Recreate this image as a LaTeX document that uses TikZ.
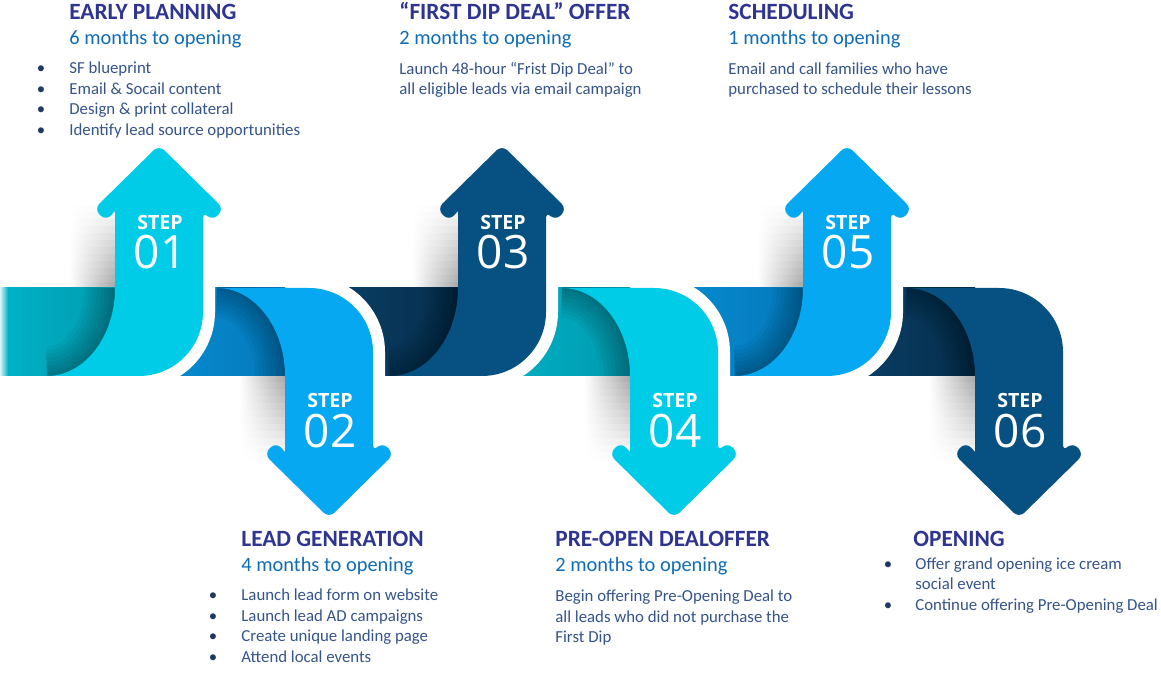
\documentclass[tikz,border=0pt]{standalone}
\usepackage{fontspec}
\setmainfont{Carlito}
\newfontfamily\osans{Open Sans}
\definecolor{cyanA}{HTML}{00CCE8}
\definecolor{brightA}{HTML}{06A9F1}
\definecolor{navyA}{HTML}{075182}
\definecolor{tealS}{HTML}{00B3C8}
\definecolor{tealD}{HTML}{009AAE}
\definecolor{medS}{HTML}{078FD5}
\definecolor{medD}{HTML}{0578BA}
\definecolor{navS}{HTML}{0A446D}
\definecolor{navD}{HTML}{062C4A}
\definecolor{ttlc}{HTML}{2E3591}
\definecolor{subc}{HTML}{0F6CB6}
\definecolor{bodyc}{HTML}{34548A}
\definecolor{bulc}{HTML}{1F3864}
\newcommand{\UpArrowShape}[2]{%
  \fill[#2] ({#1-68},376) .. controls ({#1-30.4},376) and (#1,336.6) .. (#1,288)
   -- (#1,211) [rounded corners=3.8pt] -- ({#1-9},221) -- ({#1-21},209) -- ({#1+44},145)
   -- ({#1+109},209) -- ({#1+97},221) -- ({#1+88},211) [sharp corners]
   -- ({#1+88},312) .. controls ({#1+88},347.3) and ({#1+59.3},376) .. ({#1+24},376) -- cycle;}
\newcommand{\DownArrowShape}[2]{%
  \fill[#2] ({#1-68},288) .. controls ({#1-30.4},288) and (#1,327.4) .. (#1,376)
   -- (#1,452) [rounded corners=3.8pt] -- ({#1-9},442) -- ({#1-21},454) -- ({#1+44},518)
   -- ({#1+109},454) -- ({#1+97},442) -- ({#1+88},452) [sharp corners]
   -- ({#1+88},352) .. controls ({#1+88},316.7) and ({#1+59.3},288) .. ({#1+24},288) -- cycle;}
\newcommand{\UpEdge}[1]{\draw[white, line width=12pt] ({#1+88},268) -- ({#1+88},312) .. controls ({#1+88},347.3) and ({#1+59.3},376) .. ({#1+24},376) -- ({#1+4},376);}
\newcommand{\DownEdge}[1]{\draw[white, line width=12pt] ({#1+4},288) -- ({#1+24},288) .. controls ({#1+59.3},288) and ({#1+88},316.7) .. ({#1+88},352) -- ({#1+88},396);}
\newcommand{\UpShade}[1]{\foreach \w in {30,26,22,18,14,10,6,3}{\draw[black, opacity=0.04, line width=\w pt] ({#1-68},376) .. controls ({#1-30.4},376) and (#1,336.6) .. (#1,288);}}
\newcommand{\DownShade}[1]{\foreach \w in {30,26,22,18,14,10,6,3}{\draw[black, opacity=0.04, line width=\w pt] ({#1-68},288) .. controls ({#1-30.4},288) and (#1,327.4) .. (#1,376);}}
\newcommand{\UpDrop}[1]{\foreach \i in {0,...,11}{\pgfmathsetmacro{\kk}{2.8*(\i+1)}\fill[left color=white, right color=black!\kk] ({#1-46},{206+7*\i}) rectangle (#1,{213.5+7*\i});}}
\newcommand{\DownDrop}[1]{\foreach \i in {0,...,11}{\pgfmathsetmacro{\kk}{33.6-2.8*\i}\fill[left color=white, right color=black!\kk] ({#1-46},{375.5+7*\i}) rectangle (#1,{383+7*\i});}}
\tikzset{
  ttl/.style={anchor=base west, inner sep=0pt, text=ttlc, font=\fontsize{11.65}{14}\selectfont\bfseries},
  sub/.style={anchor=base west, inner sep=0pt, text=subc, font=\fontsize{10.2}{12}\selectfont},
  txt/.style={anchor=base west, inner sep=0pt, text=bodyc, font=\fontsize{8.4}{10}\selectfont},
  bul/.style={anchor=base, inner sep=0pt, text=bulc, font=\fontsize{8.4}{10}\selectfont},
  steplbl/.style={anchor=base, inner sep=0pt, text=white, font=\osans\bfseries\fontsize{9.8}{11}\selectfont},
  stepnum/.style={anchor=base, inner sep=0pt, text=white, font=\osans\fontsize{23}{26}\selectfont}
}
\begin{document}
\begin{tikzpicture}[x=0.5pt,y=-0.5pt]
\useasboundingbox (0,0) rectangle (1161,673);
\fill[white] (0,0) rectangle (1161,673);
% drop shadows outside the band
\UpDrop{115}\UpDrop{458}\UpDrop{803}
\DownDrop{285}\DownDrop{630}\DownDrop{975}
% band segments
\fill[left color=tealS, middle color=tealS, right color=tealD] (0,288) rectangle (115,376);
\fill[left color=medS, middle color=medS, right color=medD] (139,288) rectangle (285,376);
\fill[left color=navS, middle color=navS, right color=navD] (309,288) rectangle (458,376);
\fill[left color=tealS, middle color=tealS, right color=tealD] (482,288) rectangle (630,376);
\fill[left color=medS, middle color=medS, right color=medD] (653,288) rectangle (803,376);
\fill[left color=navS, middle color=navS, right color=navD] (827,288) rectangle (975,376);
\fill[left color=white!85!tealS, right color=tealS] (0,288) rectangle (8,376);
% curve shadows
\begin{scope}
\clip (0,288) rectangle (1161,376);
\UpShade{115}\DownShade{285}\UpShade{458}\DownShade{630}\UpShade{803}\DownShade{975}
\end{scope}
% white outlines
\UpEdge{115}\DownEdge{285}\UpEdge{458}\DownEdge{630}\UpEdge{803}
% arrows
\UpArrowShape{115}{cyanA}
\DownArrowShape{285}{brightA}
\UpArrowShape{458}{navyA}
\DownArrowShape{630}{cyanA}
\UpArrowShape{803}{brightA}
\DownArrowShape{975}{navyA}
% step labels
\node[steplbl] (s1) at (160,230) {STEP};
\node[stepnum] (n1) at (160,269) {01};
\node[steplbl] (s2) at (330,408) {STEP};
\node[stepnum] (n2) at (330,447) {02};
\node[steplbl] (s3) at (503,230) {STEP};
\node[stepnum] (n3) at (503,269) {03};
\node[steplbl] (s4) at (675,408) {STEP};
\node[stepnum] (n4) at (675,447) {04};
\node[steplbl] (s5) at (848,230) {STEP};
\node[stepnum] (n5) at (848,269) {05};
\node[steplbl] (s6) at (1020,408) {STEP};
\node[stepnum] (n6) at (1020,447) {06};
% step 1 text
\node[ttl] (t1) at (69,19.5) {EARLY PLANNING};
\node[sub] (u1) at (69,44.5) {6 months to opening};
\node[bul] (b1a) at (41,74) {•};
\node[bul] (b1b) at (41,94.5) {•};
\node[bul] (b1c) at (41,115) {•};
\node[bul] (b1d) at (41,135.5) {•};
\node[txt] (x1a) at (69,74) {SF blueprint};
\node[txt] (x1b) at (69,94.5) {Email \& Socail content};
\node[txt] (x1c) at (69,115) {Design \& print collateral};
\node[txt] (x1d) at (69,135.5) {Identify lead source opportunities};
% step 3 text
\node[ttl] (t3) at (399,19.5) {“FIRST DIP DEAL” OFFER};
\node[sub] (u3) at (399,44.5) {2 months to opening};
\node[txt] (x3a) at (399,74.5) {Launch 48-hour “Frist Dip Deal” to};
\node[txt] (x3b) at (399,94.5) {all eligible leads via email campaign};
% step 5 text
\node[ttl] (t5) at (728,19.5) {SCHEDULING};
\node[sub] (u5) at (728,44.5) {1 months to opening};
\node[txt] (x5a) at (728,74.5) {Email and call families who have};
\node[txt] (x5b) at (728,94.5) {purchased to schedule their lessons};
% step 2 text
\node[ttl] (t2) at (241,546.5) {LEAD GENERATION};
\node[sub] (u2) at (241,571.5) {4 months to opening};
\node[bul] (b2a) at (213,600.5) {•};
\node[bul] (b2b) at (213,621) {•};
\node[bul] (b2c) at (213,641.5) {•};
\node[bul] (b2d) at (213,662) {•};
\node[txt] (x2a) at (241,600.5) {Launch lead form on website};
\node[txt] (x2b) at (241,621) {Launch lead AD campaigns};
\node[txt] (x2c) at (241,641.5) {Create unique landing page};
\node[txt] (x2d) at (241,662) {Attend local events};
% step 4 text
\node[ttl] (t4) at (555,546.5) {PRE-OPEN DEALOFFER};
\node[sub] (u4) at (555,571.5) {2 months to opening};
\node[txt] (x4a) at (555,601.5) {Begin offering Pre-Opening Deal to};
\node[txt] (x4b) at (555,622) {all leads who did not purchase the};
\node[txt] (x4c) at (555,642.5) {First Dip};
% step 6 text
\node[ttl] (t6) at (913,546.5) {OPENING};
\node[bul] (b6a) at (888,569) {•};
\node[bul] (b6b) at (888,610) {•};
\node[txt] (x6a) at (915,569) {Offer grand opening ice cream};
\node[txt] (x6b) at (915,589.5) {social event};
\node[txt] (x6c) at (915,610) {Continue offering Pre-Opening Deal};
\end{tikzpicture}
\end{document}
